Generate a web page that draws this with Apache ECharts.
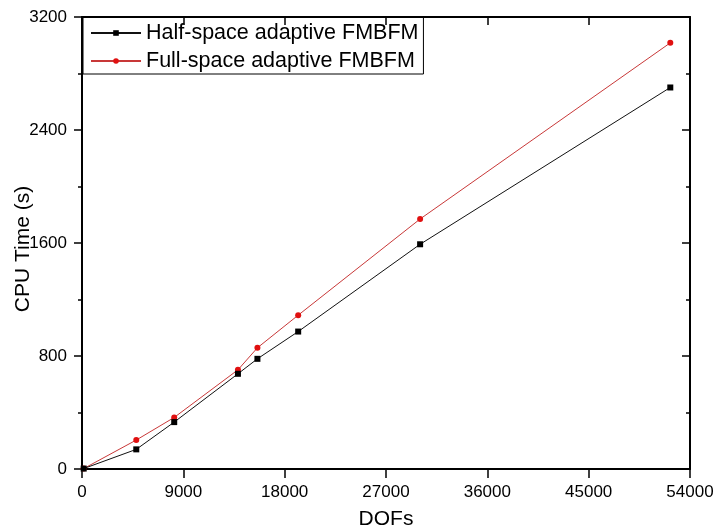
<!DOCTYPE html>
<html>
<head>
<meta charset="utf-8">
<script src="https://cdn.jsdelivr.net/npm/echarts@6/dist/echarts.min.js"></script>
<style>
html,body{margin:0;padding:0;background:#fff;}
#c{width:715px;height:530px;}
</style>
</head>
<body>
<div id="c"></div>
<script>
var dofs = [150, 4820, 8190, 13850, 15580, 19200, 30030, 52250];
var halfSpace = [3, 139, 332, 674, 780, 973, 1591, 2701];
var fullSpace = [3, 205, 365, 702, 858, 1089, 1770, 3017];
var seriesNames = ['Half-space adaptive FMBFM', 'Full-space adaptive FMBFM'];
var xTicks = [0, 9000, 18000, 27000, 36000, 45000, 54000];
var yTicks = [0, 800, 1600, 2400, 3200];

function pairs(xs, ys) { return xs.map(function (x, i) { return [x, ys[i]]; }); }
function plain(v) { return String(v); }

var font = 'Liberation Sans, Arial, sans-serif';
var chart = echarts.init(document.getElementById('c'), null, { renderer: 'canvas' });
var axisLine = { show: true, onZero: false, lineStyle: { color: '#000', width: 2 } };

chart.setOption({
  backgroundColor: '#fff',
  animation: false,
  grid: { left: 82, right: 25, top: 17, bottom: 61, containLabel: false, outerBoundsMode: 'none' },
  legend: {
    left: 83, top: 17, orient: 'vertical',
    data: seriesNames,
    borderColor: '#000', borderWidth: 1, borderRadius: 0,
    padding: [5, 5, 2, 7],
    itemWidth: 50, itemHeight: 7, itemGap: 6,
    textStyle: { fontFamily: font, fontSize: 21.5, color: '#000', lineHeight: 21 }
  },
  xAxis: [{
    type: 'value', min: xTicks[0], max: xTicks[xTicks.length - 1], interval: 9000,
    position: 'bottom',
    name: 'DOFs', nameLocation: 'middle', nameGap: 40, nameMoveOverlap: false,
    nameTextStyle: { fontFamily: font, fontSize: 21, color: '#000' },
    axisLine: axisLine,
    axisTick: { show: true, inside: false, length: 9, lineStyle: { color: '#000', width: 1.5 } },
    axisLabel: { fontFamily: font, fontSize: 17, color: '#000', margin: 15, formatter: plain },
    splitLine: { show: false }
  }, {
    type: 'value', min: xTicks[0], max: xTicks[xTicks.length - 1], interval: 9000,
    position: 'top',
    axisLine: axisLine,
    axisTick: { show: true, inside: true, length: 8, lineStyle: { color: '#000', width: 1.5 } },
    axisLabel: { show: false },
    splitLine: { show: false }
  }],
  yAxis: [{
    type: 'value', min: yTicks[0], max: yTicks[yTicks.length - 1], interval: 800,
    position: 'left',
    name: 'CPU Time (s)', nameLocation: 'middle', nameGap: 48, nameRotate: 90, nameMoveOverlap: false,
    nameTextStyle: { fontFamily: font, fontSize: 21, color: '#000', padding: [0, 12, 0, 0] },
    axisLine: axisLine,
    axisTick: { show: true, inside: false, length: 8, lineStyle: { color: '#000', width: 1.5 } },
    minorTick: { show: true, splitNumber: 2, length: 4, lineStyle: { color: '#000', width: 1.5 } },
    axisLabel: { fontFamily: font, fontSize: 17, color: '#000', margin: 15, formatter: plain },
    splitLine: { show: false }, minorSplitLine: { show: false }
  }, {
    type: 'value', min: yTicks[0], max: yTicks[yTicks.length - 1], interval: 800,
    position: 'right',
    axisLine: axisLine,
    axisTick: { show: true, inside: true, length: 8, lineStyle: { color: '#000', width: 1.5 } },
    minorTick: { show: true, splitNumber: 2, length: 4, lineStyle: { color: '#000', width: 1.5 } },
    axisLabel: { show: false },
    splitLine: { show: false }, minorSplitLine: { show: false }
  }],
  series: [{
    name: seriesNames[0], type: 'line', xAxisIndex: 0, yAxisIndex: 0,
    data: pairs(dofs, halfSpace),
    symbol: 'rect', symbolSize: 6, showAllSymbol: true,
    lineStyle: { color: '#111', width: 1 },
    itemStyle: { color: '#000' },
    z: 3
  }, {
    name: seriesNames[1], type: 'line', xAxisIndex: 0, yAxisIndex: 0,
    data: pairs(dofs, fullSpace),
    symbol: 'circle', symbolSize: 6, showAllSymbol: true,
    lineStyle: { color: '#c83838', width: 1 },
    itemStyle: { color: '#e01010' },
    z: 2
  }]
});
</script>
</body>
</html>
